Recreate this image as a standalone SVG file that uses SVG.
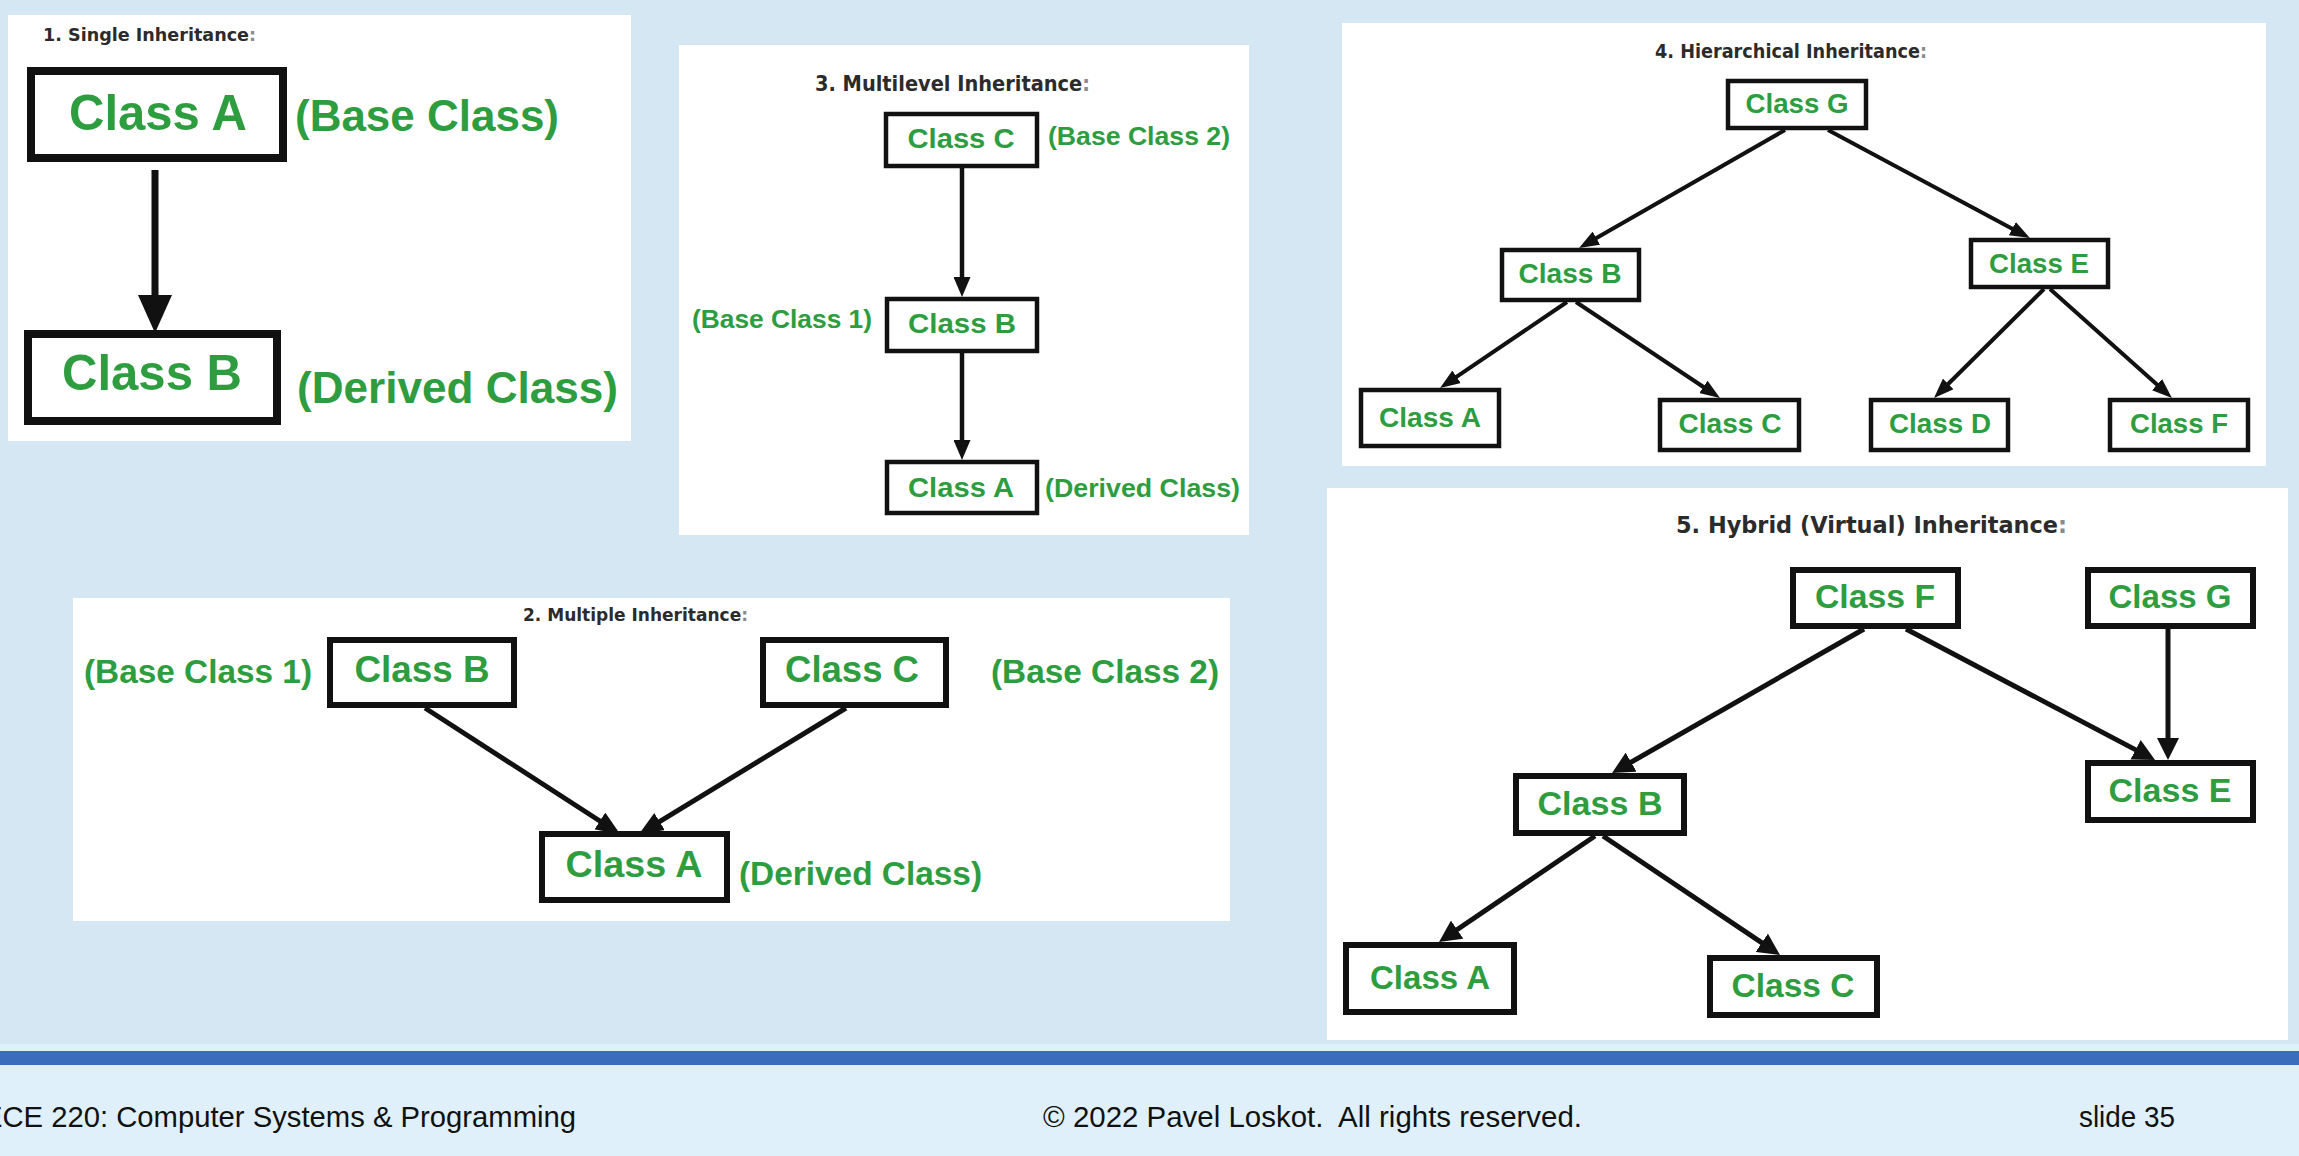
<svg xmlns="http://www.w3.org/2000/svg" width="2299" height="1156" viewBox="0 0 2299 1156">
<style>
.panel{fill:#ffffff}
.box{fill:#ffffff;stroke:#111111;stroke-linejoin:miter}
.b1{stroke-width:8}
.b2{stroke-width:6}
.b3{stroke-width:4.5}
.b4{stroke-width:4.5}
.b5{stroke-width:6}
.cls{font-family:"Liberation Sans",Arial,sans-serif;font-weight:bold;fill:#2e9d40;text-anchor:middle}
.lbl{font-family:"Liberation Sans",Arial,sans-serif;font-weight:bold;fill:#2e9d40}
.ttl{font-family:"DejaVu Sans Condensed","DejaVu Sans",sans-serif;font-weight:bold;fill:#2b2b2b}
.colon{fill:#8a8a8a}
.ft{font-family:"Liberation Sans",Arial,sans-serif;fill:#111111;font-size:29px}
.ln{stroke:#111111;fill:none;stroke-linecap:butt}
</style>
<defs>
<marker id="h1" markerUnits="userSpaceOnUse" markerWidth="38" markerHeight="34" refX="19" refY="17" orient="auto"><path d="M0,0 L38,17 L0,34 z" fill="#111111"/></marker>
<marker id="h2" markerUnits="userSpaceOnUse" markerWidth="24" markerHeight="20" refX="12" refY="10" orient="auto"><path d="M0,0 L24,10 L0,20 z" fill="#111111"/></marker>
<marker id="h3" markerUnits="userSpaceOnUse" markerWidth="20" markerHeight="17" refX="10" refY="8.5" orient="auto"><path d="M0,0 L20,8.5 L0,17 z" fill="#111111"/></marker>
<marker id="h4" markerUnits="userSpaceOnUse" markerWidth="20" markerHeight="15" refX="10" refY="7.5" orient="auto"><path d="M0,0 L20,7.5 L0,15 z" fill="#111111"/></marker>
<marker id="h5" markerUnits="userSpaceOnUse" markerWidth="22" markerHeight="22" refX="11" refY="11" orient="auto"><path d="M0,0 L22,11 L0,22 z" fill="#111111"/></marker>
</defs>

<rect x="0" y="0" width="2299" height="1156" fill="#d4e7f3"/>
<rect x="0" y="1044" width="2299" height="112" fill="#dff0fb"/>
<rect x="0" y="1051" width="2299" height="14" fill="#3a6ebd"/>

<!-- panels -->
<g id="panels">
<rect class="panel" x="8" y="15" width="623" height="426"/>
<rect class="panel" x="679" y="45" width="570" height="490"/>
<rect class="panel" x="1342" y="23" width="924" height="443"/>
<rect class="panel" x="73" y="598" width="1157" height="323"/>
<rect class="panel" x="1327" y="488" width="961" height="552"/>
</g>

<!-- titles -->
<g id="titles">
<text class="ttl" x="43" y="41" font-size="18" textLength="213" lengthAdjust="spacingAndGlyphs">1. Single Inheritance<tspan class="colon">:</tspan></text>
<text class="ttl" x="815" y="91" font-size="21" textLength="275" lengthAdjust="spacingAndGlyphs">3. Multilevel Inheritance<tspan class="colon">:</tspan></text>
<text class="ttl" x="1655" y="58" font-size="19" textLength="272" lengthAdjust="spacingAndGlyphs">4. Hierarchical Inheritance<tspan class="colon">:</tspan></text>
<text class="ttl" x="523" y="621" font-size="18" textLength="225" lengthAdjust="spacingAndGlyphs">2. Multiple Inheritance<tspan class="colon">:</tspan></text>
<text class="ttl" x="1676" y="533" font-size="23" textLength="391" lengthAdjust="spacingAndGlyphs">5. Hybrid (Virtual) Inheritance<tspan class="colon">:</tspan></text>
</g>

<!-- connectors -->
<g id="connectors">
<line class="ln" x1="155" y1="170" x2="155" y2="314" stroke-width="7" marker-end="url(#h1)"/>

<line class="ln" x1="962" y1="168" x2="962" y2="287" stroke-width="4.5" marker-end="url(#h3)"/>
<line class="ln" x1="962" y1="353" x2="962" y2="450" stroke-width="4.5" marker-end="url(#h3)"/>

<line class="ln" x1="1785" y1="130" x2="1587.7" y2="243.1" stroke-width="4" marker-end="url(#h4)"/>
<line class="ln" x1="1828" y1="130" x2="2021.1" y2="233.4" stroke-width="4" marker-end="url(#h4)"/>
<line class="ln" x1="1567" y1="302" x2="1448.3" y2="382.4" stroke-width="4" marker-end="url(#h4)"/>
<line class="ln" x1="1576" y1="302" x2="1711.7" y2="392.5" stroke-width="4" marker-end="url(#h4)"/>
<line class="ln" x1="2044" y1="289" x2="1941.1" y2="391.0" stroke-width="4" marker-end="url(#h4)"/>
<line class="ln" x1="2050" y1="289" x2="2164.5" y2="391.3" stroke-width="4" marker-end="url(#h4)"/>

<line class="ln" x1="425" y1="708" x2="609.9" y2="827.5" stroke-width="5" marker-end="url(#h2)"/>
<line class="ln" x1="846" y1="708" x2="649.3" y2="827.8" stroke-width="5" marker-end="url(#h2)"/>

<line class="ln" x1="1864" y1="629" x2="1621.6" y2="767.6" stroke-width="5" marker-end="url(#h5)"/>
<line class="ln" x1="1906" y1="629" x2="2145.3" y2="754.9" stroke-width="5" marker-end="url(#h5)"/>
<line class="ln" x1="2168" y1="629" x2="2168" y2="749" stroke-width="5" marker-end="url(#h5)"/>
<line class="ln" x1="1595" y1="836" x2="1448.1" y2="935.8" stroke-width="5" marker-end="url(#h5)"/>
<line class="ln" x1="1603" y1="836" x2="1770.9" y2="948.9" stroke-width="5" marker-end="url(#h5)"/>
</g>

<!-- Panel 1: single -->
<g id="p1-classA"><rect class="box b1" x="31" y="71" width="252" height="87"/><text class="cls" x="158" y="130" font-size="50" textLength="178" lengthAdjust="spacingAndGlyphs">Class A</text></g>
<g id="p1-classB"><rect class="box b1" x="28" y="334" width="249" height="87"/><text class="cls" x="152" y="390" font-size="50" textLength="180" lengthAdjust="spacingAndGlyphs">Class B</text></g>
<g id="p1-labels">
<text class="lbl" x="295" y="131" font-size="44" textLength="264" lengthAdjust="spacingAndGlyphs">(Base Class)</text>
<text class="lbl" x="297" y="403" font-size="44" textLength="321" lengthAdjust="spacingAndGlyphs">(Derived Class)</text>
</g>

<!-- Panel 3: multilevel -->
<g id="p3-classC"><rect class="box b3" x="886" y="114" width="151" height="52"/><text class="cls" x="961" y="148" font-size="28" textLength="107" lengthAdjust="spacingAndGlyphs">Class C</text></g>
<g id="p3-classB"><rect class="box b3" x="887" y="299" width="150" height="52"/><text class="cls" x="962" y="333" font-size="28" textLength="108" lengthAdjust="spacingAndGlyphs">Class B</text></g>
<g id="p3-classA"><rect class="box b3" x="887" y="462" width="150" height="51"/><text class="cls" x="961" y="497" font-size="28" textLength="106" lengthAdjust="spacingAndGlyphs">Class A</text></g>
<g id="p3-labels">
<text class="lbl" x="1048" y="145" font-size="26" textLength="182" lengthAdjust="spacingAndGlyphs">(Base Class 2)</text>
<text class="lbl" x="692" y="328" font-size="26" textLength="180" lengthAdjust="spacingAndGlyphs">(Base Class 1)</text>
<text class="lbl" x="1045" y="497" font-size="26" textLength="195" lengthAdjust="spacingAndGlyphs">(Derived Class)</text>
</g>

<!-- Panel 4: hierarchical -->
<g id="p4-classG"><rect class="box b4" x="1728" y="81" width="138" height="47"/><text class="cls" x="1797" y="113" font-size="27" textLength="103" lengthAdjust="spacingAndGlyphs">Class G</text></g>
<g id="p4-classB"><rect class="box b4" x="1502" y="250" width="137" height="50"/><text class="cls" x="1570" y="283" font-size="27" textLength="103" lengthAdjust="spacingAndGlyphs">Class B</text></g>
<g id="p4-classE"><rect class="box b4" x="1971" y="240" width="137" height="47"/><text class="cls" x="2039" y="273" font-size="27" textLength="100" lengthAdjust="spacingAndGlyphs">Class E</text></g>
<g id="p4-classA"><rect class="box b4" x="1361" y="390" width="138" height="56"/><text class="cls" x="1430" y="427" font-size="27" textLength="102" lengthAdjust="spacingAndGlyphs">Class A</text></g>
<g id="p4-classC"><rect class="box b4" x="1660" y="400" width="139" height="50"/><text class="cls" x="1730" y="433" font-size="27" textLength="103" lengthAdjust="spacingAndGlyphs">Class C</text></g>
<g id="p4-classD"><rect class="box b4" x="1871" y="400" width="137" height="50"/><text class="cls" x="1940" y="433" font-size="27" textLength="102" lengthAdjust="spacingAndGlyphs">Class D</text></g>
<g id="p4-classF"><rect class="box b4" x="2110" y="400" width="138" height="50"/><text class="cls" x="2179" y="433" font-size="27" textLength="98" lengthAdjust="spacingAndGlyphs">Class F</text></g>

<!-- Panel 2: multiple -->
<g id="p2-classB"><rect class="box b2" x="330" y="640" width="184" height="65"/><text class="cls" x="422" y="682" font-size="36" textLength="135" lengthAdjust="spacingAndGlyphs">Class B</text></g>
<g id="p2-classC"><rect class="box b2" x="763" y="640" width="183" height="65"/><text class="cls" x="852" y="682" font-size="36" textLength="134" lengthAdjust="spacingAndGlyphs">Class C</text></g>
<g id="p2-classA"><rect class="box b2" x="542" y="834" width="185" height="66"/><text class="cls" x="634" y="877" font-size="36" textLength="137" lengthAdjust="spacingAndGlyphs">Class A</text></g>
<g id="p2-labels">
<text class="lbl" x="84" y="683" font-size="33" textLength="228" lengthAdjust="spacingAndGlyphs">(Base Class 1)</text>
<text class="lbl" x="991" y="683" font-size="33" textLength="228" lengthAdjust="spacingAndGlyphs">(Base Class 2)</text>
<text class="lbl" x="739" y="885" font-size="33" textLength="243" lengthAdjust="spacingAndGlyphs">(Derived Class)</text>
</g>

<!-- Panel 5: hybrid -->
<g id="p5-classF"><rect class="box b5" x="1793" y="570" width="165" height="56"/><text class="cls" x="1875" y="608" font-size="33" textLength="120" lengthAdjust="spacingAndGlyphs">Class F</text></g>
<g id="p5-classG"><rect class="box b5" x="2088" y="570" width="165" height="56"/><text class="cls" x="2170" y="608" font-size="33" textLength="123" lengthAdjust="spacingAndGlyphs">Class G</text></g>
<g id="p5-classB"><rect class="box b5" x="1516" y="776" width="168" height="57"/><text class="cls" x="1600" y="815" font-size="33" textLength="125" lengthAdjust="spacingAndGlyphs">Class B</text></g>
<g id="p5-classE"><rect class="box b5" x="2088" y="763" width="165" height="57"/><text class="cls" x="2170" y="802" font-size="33" textLength="123" lengthAdjust="spacingAndGlyphs">Class E</text></g>
<g id="p5-classA"><rect class="box b5" x="1346" y="945" width="168" height="67"/><text class="cls" x="1430" y="989" font-size="33" textLength="120" lengthAdjust="spacingAndGlyphs">Class A</text></g>
<g id="p5-classC"><rect class="box b5" x="1710" y="958" width="167" height="57"/><text class="cls" x="1793" y="997" font-size="33" textLength="123" lengthAdjust="spacingAndGlyphs">Class C</text></g>

<!-- footer -->
<g id="footer">
<text class="ft" x="-17" y="1127" textLength="593" lengthAdjust="spacingAndGlyphs">ECE 220: Computer Systems &amp; Programming</text>
<text class="ft" x="1043" y="1127" textLength="539" lengthAdjust="spacingAndGlyphs" xml:space="preserve">© 2022 Pavel Loskot.  All rights reserved.</text>
<text class="ft" x="2079" y="1127" textLength="96" lengthAdjust="spacingAndGlyphs">slide 35</text>
</g>
</svg>
